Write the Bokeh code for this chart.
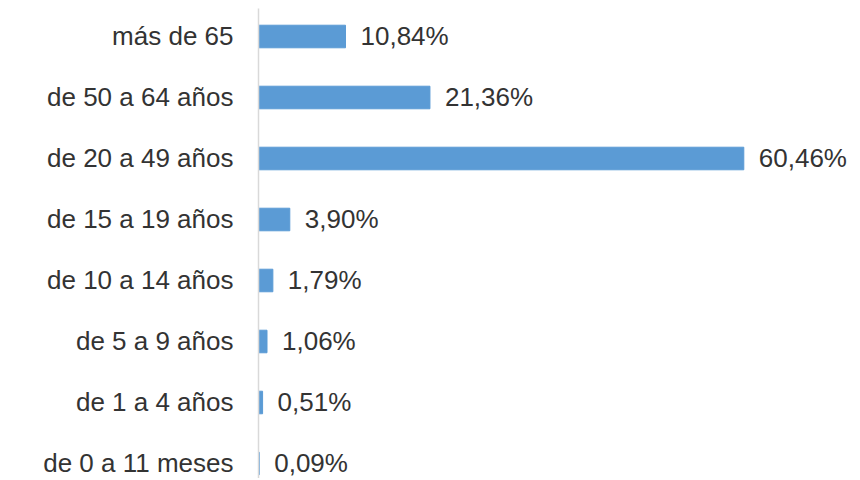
from bokeh.plotting import figure
from bokeh.models import Range1d, FixedTicker, ColumnDataSource
from bokeh.embed import file_html
from bokeh.resources import INLINE
from bokeh.core.properties import value

# Data (bottom to top)
categories = ["de 0 a 11 meses", "de 1 a 4 años", "de 5 a 9 años", "de 10 a 14 años",
              "de 15 a 19 años", "de 20 a 49 años", "de 50 a 64 años", "más de 65"]
percentages = [0.09, 0.51, 1.06, 1.79, 3.90, 60.46, 21.36, 10.84]

labels = [f"{v:.2f}".replace(".", ",") + "%" for v in percentages]
ypos = list(range(len(categories)))

src = ColumnDataSource(dict(y=ypos, v=percentages, lab=labels))

FONT = "Liberation Sans"
TXT = "#333333"

p = figure(width=858, height=478, output_backend="svg", toolbar_location=None,
           x_range=Range1d(0, 74.75), y_range=Range1d(-0.246, 7.459),
           min_border_left=258, min_border_right=0, min_border_top=8, min_border_bottom=0)
p.outline_line_color = None
p.xgrid.visible = False
p.ygrid.visible = False
p.xaxis.visible = False

p.hbar(y="y", right="v", left=0, height=0.37, source=src, color="#5B9BD5")
p.text(x="v", y="y", text="lab", source=src, x_offset=15, text_baseline="middle",
       text_align="left", text_font=value(FONT), text_font_size="26px", text_color=TXT)

ya = p.yaxis[0]
ya.ticker = FixedTicker(ticks=ypos)
ya.major_label_overrides = {i: c for i, c in zip(ypos, categories)}
ya.major_tick_line_color = None
ya.minor_tick_line_color = None
ya.major_tick_out = 0
ya.major_tick_in = 0
ya.axis_line_color = "#d9d9d9"
ya.axis_line_width = 1.5
ya.major_label_standoff = 25
ya.major_label_text_font = FONT
ya.major_label_text_font_size = "26px"
ya.major_label_text_color = TXT

open("out.html", "w").write(file_html(p, INLINE))
